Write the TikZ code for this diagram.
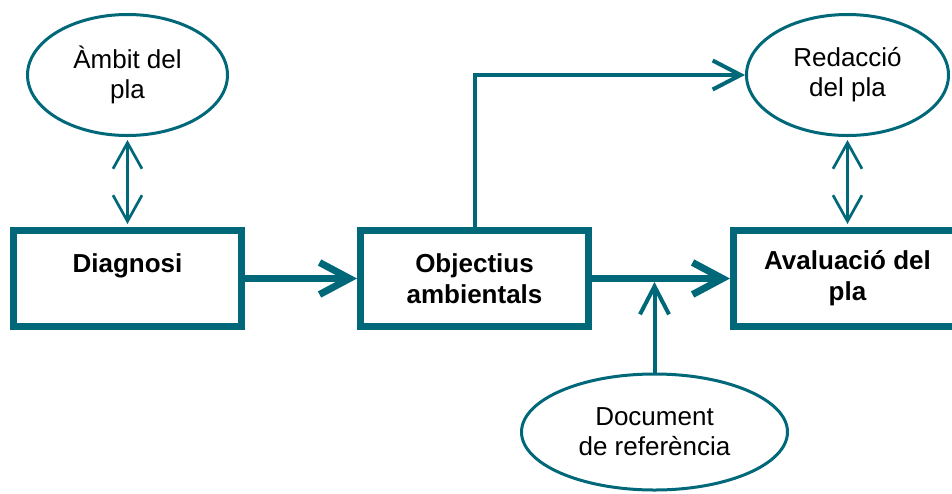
\documentclass[tikz,border=0pt]{standalone}
\usepackage{fontspec}
\setmainfont{Liberation Sans}
\usepackage{tikz}
\usetikzlibrary{arrows.meta,shapes,positioning}
\usepackage{xcolor}
\definecolor{dfteal}{RGB}{0,104,120}
\tikzstyle{box} = [draw=dfteal, line width=7pt, rectangle, minimum width=228pt, minimum height=96pt, inner sep=0pt, align=center, font=\fontsize{26}{31}\selectfont\bfseries]
\tikzstyle{oval} = [draw=dfteal, line width=3pt, ellipse, inner sep=0pt, align=center, font=\fontsize{26}{30}\selectfont]
\tikzstyle{bigarrow} = [line width=7pt, color=dfteal, -{Straight Barb[length=30pt,width=32pt]}]
\tikzstyle{midarrow} = [line width=4pt, color=dfteal, -{Straight Barb[length=28pt,width=29pt]}]
\tikzstyle{thinarrow} = [line width=2.7pt, color=dfteal, {Straight Barb[length=26pt,width=29pt]}-{Straight Barb[length=26pt,width=29pt]}, shorten >=3pt, shorten <=3pt]

\begin{document}
\begin{tikzpicture}[x=1pt, y=-1pt]
\useasboundingbox (0,0) rectangle (952,493);
% Boxes
\node[box] (diag) at (127.5,278.5) {Diagnosi\\\mbox{}};
\node[box] (obj) at (474.5,278.5) {Objectius\\ambientals};
\node[box] (aval) at (847.5,278.5) {Avaluació del\\pla};

% Ovals
\node[oval, minimum width=200pt, minimum height=121pt] (ambit) at (127.5,75) {Àmbit del\\pla};
\node[oval, minimum width=202pt, minimum height=121pt] (red) at (847.5,75) {Redacció\\del pla};
\node[oval, minimum width=266pt, minimum height=116pt] (doc) at (654.5,432) {Document\\de referència};

% Arrows
\draw[thinarrow] (ambit.south) -- (diag.north);
\draw[bigarrow] (diag.east) -- (obj.west);
\draw[bigarrow] (obj.east) -- (aval.west);
\coordinate (join) at (doc.north |- obj.east);
\draw[midarrow, shorten >=3.5pt] (doc.north) -- (join);
\draw[midarrow] (obj.north) |- (red.west);
\draw[thinarrow] (red.south) -- (aval.north);
\end{tikzpicture}
\end{document}
